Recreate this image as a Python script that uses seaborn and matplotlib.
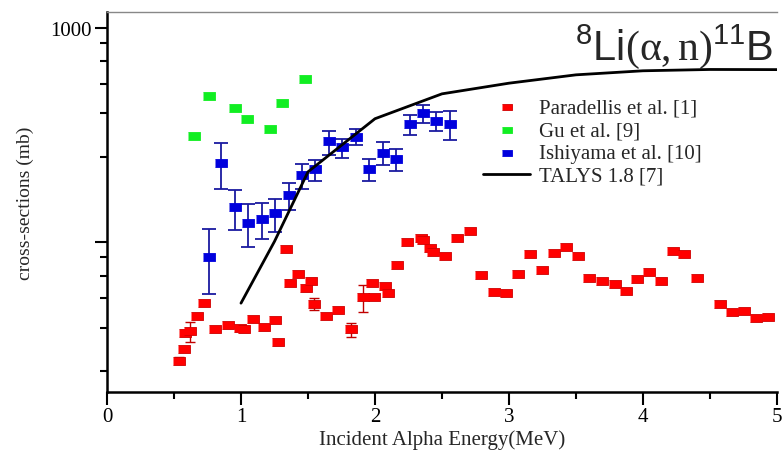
import numpy as np
import pandas as pd
import seaborn as sns
import matplotlib
matplotlib.use('Agg')
import matplotlib.pyplot as plt
from matplotlib.ticker import FixedLocator, NullFormatter

# Paradellis et al. [1]
par_e = [0.537, 0.574, 0.583, 0.621, 0.671, 0.721, 0.807, 0.902, 0.991, 1.026,
         1.090, 1.172, 1.254, 1.276, 1.339, 1.364, 1.428, 1.488, 1.520, 1.545,
         1.634, 1.727, 1.818, 1.913, 1.980, 1.995, 2.072, 2.099, 2.161, 2.241,
         2.347, 2.360, 2.409, 2.434, 2.524, 2.615, 2.707, 2.789, 2.889, 2.981,
         3.065, 3.157, 3.244, 3.336, 3.423, 3.512, 3.599, 3.691, 3.791, 3.870,
         3.957, 4.048, 4.136, 4.227, 4.309, 4.402, 4.575, 4.667, 4.754, 4.844, 4.933]
par_xs = [28.0, 31.6, 37.6, 38.4, 45.1, 52.2, 39.2, 40.9, 39.7, 39.3,
          43.8, 40.1, 43.5, 34.1, 93.5, 64.9, 71.5, 60.9, 66.3, 51.6,
          45.1, 48.1, 39.2, 55.3, 64.4, 55.3, 62.6, 57.7, 78.4, 100.3,
          104.4, 102.2, 94.5, 90.5, 86.7, 104.4, 113.4, 70.4, 58.7, 57.9,
          71.5, 87.9, 74.3, 88.9, 94.8, 86.3, 68.5, 66.0, 63.9, 59.3,
          67.5, 72.5, 66.3, 91.5, 88.6, 68.5, 51.4, 47.2, 47.7, 44.3, 44.7]
par_err = [1.0, 1.0, 1.2, 4.0, 1.2, 1.2, 1.0, 1.0, 1.0, 1.0,
           1.0, 1.0, 1.0, 1.0, 2.0, 1.5, 1.5, 1.5, 1.5, 3.5,
           1.0, 1.0, 3.0, 8.0, 1.5, 1.2, 1.5, 1.5, 1.5, 2.0,
           2.0, 2.0, 2.0, 2.0, 2.0, 2.0, 2.0, 1.5, 1.2, 1.2,
           1.5, 1.5, 1.5, 1.5, 2.0, 1.5, 1.5, 1.5, 1.5, 1.2,
           1.5, 1.5, 1.5, 2.0, 2.0, 1.5, 1.2, 1.0, 1.0, 1.0, 1.0]

# Gu et al. [9]
gu_e = [0.650, 0.765, 0.952, 1.043, 1.215, 1.306, 1.475]
gu_xs = [314, 485, 425, 375, 338, 449, 579]

# Ishiyama et al. [10]
ish_e = [0.758, 0.854, 0.954, 1.056, 1.157, 1.257, 1.358, 1.458, 1.555, 1.659,
         1.756, 1.855, 1.958, 2.057, 2.159, 2.258, 2.355, 2.457, 2.558]
ish_xs = [85.8, 235.9, 146.0, 123.0, 128.0, 136.5, 166.0, 205.9, 219.5, 296.4,
          277.8, 311.7, 220.4, 261.6, 244.3, 357.2, 401.9, 368.8, 357.2]
ish_lo = [57.4, 178.0, 113.7, 95.5, 103.3, 112.1, 141.0, 178.4, 194.4, 257.0,
          248.0, 283.9, 193.8, 230.8, 215.8, 318.4, 362.2, 332.4, 301.8]
ish_hi = [115.0, 292.0, 176.5, 150.8, 151.9, 159.8, 190.3, 232.6, 242.7, 332.4,
          305.0, 337.1, 246.1, 293.2, 272.0, 391.7, 439.3, 406.2, 410.6]

# TALYS 1.8 [7]
talys_e = [1.0, 1.25, 1.5, 2.0, 2.5, 3.0, 3.5, 4.0, 4.5, 5.0]
talys_xs = [52.0, 101.0, 213.5, 378, 494, 554, 606, 633, 642, 641]

sns.set_theme(style='ticks')
plt.rcParams['font.family'] = ['Liberation Serif', 'DejaVu Serif']
plt.rcParams['mathtext.fontset'] = 'custom'
plt.rcParams['mathtext.rm'] = 'Liberation Serif'
plt.rcParams['mathtext.sf'] = 'Liberation Sans'
plt.rcParams['mathtext.it'] = 'Liberation Serif:italic'

fig = plt.figure(figsize=(7.82, 4.52), dpi=100)
ax = fig.add_axes([0.1368, 0.1305, 0.8568, 0.8414])

rect = [(-1, -0.75), (1, -0.75), (1, 0.75), (-1, 0.75)]

par = pd.DataFrame({'E': par_e, 'xs': par_xs})
gu = pd.DataFrame({'E': gu_e, 'xs': gu_xs})
ish = pd.DataFrame({'E': ish_e, 'xs': ish_xs})
talys = pd.DataFrame({'E': talys_e, 'xs': talys_xs})

# error bars first
ax.errorbar(par_e, par_xs, yerr=par_err, fmt='none', ecolor='#c00000',
            elinewidth=1.0, capsize=3.5, capthick=1.0, zorder=2)
ish_yerr = [np.array(ish_xs) - np.array(ish_lo), np.array(ish_hi) - np.array(ish_xs)]
ax.errorbar(ish_e, ish_xs, yerr=ish_yerr, fmt='none', ecolor='#1a1aa0',
            elinewidth=1.3, capsize=5, capthick=1.3, zorder=2)

sns.scatterplot(data=par, x='E', y='xs', ax=ax, marker=rect, s=70, color='#ff0000',
                edgecolor='#d00000', linewidth=0.6, label='Paradellis et al. [1]', zorder=3)
sns.scatterplot(data=gu, x='E', y='xs', ax=ax, marker=rect, s=70, color='#11ee22',
                edgecolor='#11ee22', linewidth=0.6, label='Gu et al. [9]', zorder=3)
sns.scatterplot(data=ish, x='E', y='xs', ax=ax, marker=rect, s=70, color='#0000dd',
                edgecolor='#0000dd', linewidth=0.6, label='Ishiyama et al. [10]', zorder=3)
sns.lineplot(data=talys, x='E', y='xs', ax=ax, color='black', linewidth=2,
             label='TALYS 1.8 [7]', zorder=4)

ax.set_yscale('log')
ax.set_xlim(0, 5)
ax.set_ylim(20, 1195)
ax.set_xticks([0, 1, 2, 3, 4, 5])
ax.set_xticklabels(['0', '1', '2', '3', '4', '5'])
ax.xaxis.set_minor_locator(FixedLocator([0.5, 1.5, 2.5, 3.5, 4.5]))
ax.yaxis.set_major_locator(FixedLocator([100, 1000]))
ax.set_yticklabels(['', '1000'])
ax.yaxis.set_minor_locator(FixedLocator([25, 40, 55, 70, 85, 250, 400, 550, 700, 850]))
ax.yaxis.set_minor_formatter(NullFormatter())
ax.tick_params(axis='both', which='major', direction='out', length=9, width=1.5,
               labelsize=15, color='black', labelcolor='black')
ax.tick_params(axis='both', which='minor', direction='out', length=5, width=1.5, color='black')
ax.tick_params(axis='y', which='major', pad=2)
ax.tick_params(axis='x', which='major', pad=2)

for s in ['left', 'bottom']:
    ax.spines[s].set_linewidth(1.8)
    ax.spines[s].set_color('black')
ax.spines['top'].set_color('#888888')
ax.spines['top'].set_linewidth(1.0)
ax.spines['right'].set_visible(False)

ax.set_xlabel('Incident Alpha Energy(MeV)', fontsize=15, labelpad=2)
ax.set_ylabel('cross-sections (mb)', fontsize=14, labelpad=12)

ax.text(0.995, 0.91, r'$\mathsf{^{8}Li}(\mathrm{\alpha},\mathrm{n})\mathsf{^{11}B}$',
        transform=ax.transAxes, ha='right', va='center', fontsize=30)

leg = ax.legend(loc='upper left', bbox_to_anchor=(0.545, 0.8), frameon=False,
                fontsize=15, handlelength=2.3, handletextpad=0.4, labelspacing=0.15,
                markerscale=0.8, borderpad=0)

fig.savefig('out.png', dpi=100)
